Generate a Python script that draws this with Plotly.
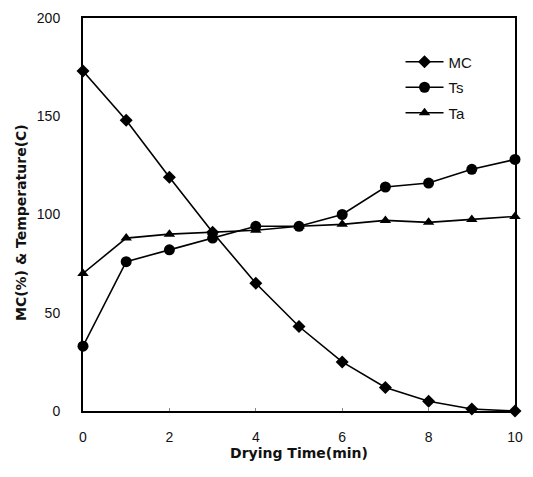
import plotly.graph_objects as go

time_min = [0, 1, 2, 3, 4, 5, 6, 7, 8, 9, 10]
mc = [173, 148, 119, 91, 65, 43, 25, 12, 5, 1, 0]
ts = [33, 76, 82, 88, 94, 94, 100, 114, 116, 123, 128]
ta = [70, 88, 90, 91, 92, 94, 95, 97, 96, 97.5, 99]

font_family = "Liberation Sans, Arial, sans-serif"
title_family = "DejaVu Sans, sans-serif"

fig = go.Figure()
series = [
    ("MC", mc, "diamond", 10),
    ("Ts", ts, "circle", 11),
    ("Ta", ta, "triangle-up", 10),
]
for name, vals, sym, size in series:
    fig.add_trace(go.Scatter(
        x=time_min, y=vals, name=name, mode="lines+markers",
        line=dict(color="black", width=1.6),
        marker=dict(symbol=sym, size=size, color="black"),
        legendgroup=name, cliponaxis=False,
    ))

fig.update_layout(
    width=533, height=477,
    margin=dict(l=83, r=18, t=10, b=66),
    paper_bgcolor="white", plot_bgcolor="white",
    font=dict(family=font_family, size=14, color="#111"),
    showlegend=True,
    legend=dict(x=0.735, y=0.93, xanchor="left", yanchor="top",
                bgcolor="rgba(0,0,0,0)", font=dict(size=15),
                tracegroupgap=3, itemwidth=38),
    annotations=[dict(
        text="<b>MC(%) & Temperature(C)</b>", textangle=-90,
        xref="paper", yref="paper", x=-0.142, y=0.48,
        xanchor="center", yanchor="middle", showarrow=False,
        font=dict(family=title_family, size=14, color="#111"),
    )],
)
fig.update_xaxes(
    range=[0, 10], tickvals=[0, 2, 4, 6, 8, 10],
    showline=True, linecolor="black", linewidth=2, mirror=True,
    showgrid=False, zeroline=False,
    ticks="inside", ticklen=3, tickcolor="#888",
    ticklabelstandoff=12,
    title=dict(text="<b>Drying Time(min)</b>", standoff=4,
               font=dict(family=title_family, size=14)),
)
fig.update_yaxes(
    range=[0, 200], tickvals=[0, 50, 100, 150, 200],
    showline=True, linecolor="black", linewidth=2, mirror=True,
    showgrid=False, zeroline=False,
    ticks="", ticklabelstandoff=18,
)

fig.write_html("out.html")
